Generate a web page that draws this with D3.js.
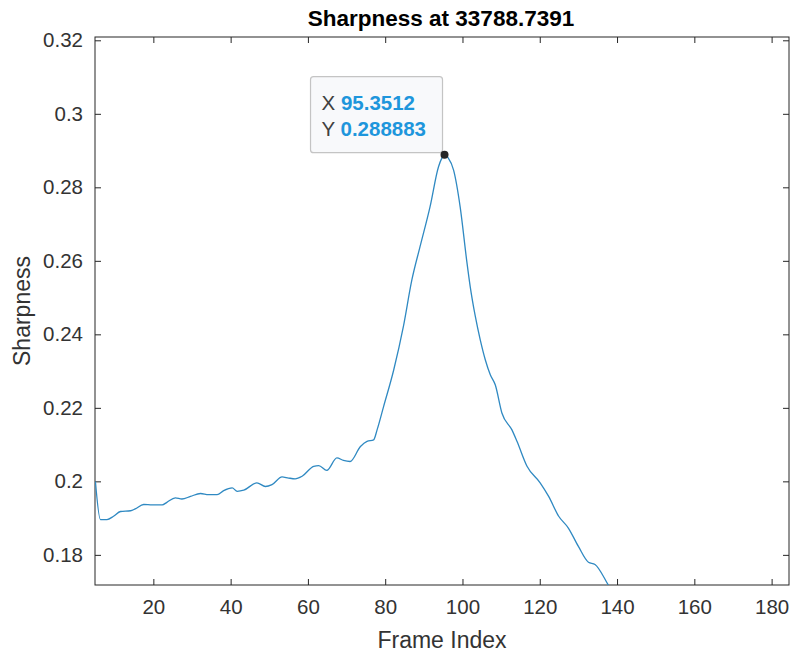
<!DOCTYPE html>
<html>
<head>
<meta charset="utf-8">
<script src="https://cdn.jsdelivr.net/npm/d3@7"></script>
<style>
  body { margin: 0; background: #fff; }
  svg { display: block; font-family: "Liberation Sans", Arial, sans-serif; }
</style>
</head>
<body>
<svg width="793" height="654"></svg>
<script>
const w = 793;
const h = 654;

// frame index / sharpness
var frameIndex = [5.0, 6.3, 8.0, 9.7, 11.5, 14.1, 15.3, 17.5, 19.7, 22.3, 23.5, 25.7, 27.4, 29.6,
  32.2, 34.3, 36.5, 38.2, 40.4, 41.7, 43.4, 46.8, 49.0, 50.7, 53.3, 55.0, 56.7, 58.5, 61.5, 62.8,
  64.9, 67.5, 69.2, 70.9, 73.6, 75.3, 77.0, 77.9, 79.6, 82.2, 84.7, 86.9, 89.0, 91.6, 93.8, 94.6,
  95.3512, 96.3, 97.7, 99.4, 101.1, 102.0, 103.3, 104.6, 105.9, 107.2, 108.5, 110.2, 112.8, 114.1,
  116.7, 120.1, 122.3, 124.9, 127.4, 130.0, 132.6, 134.3, 137.8, 140.0, 143.0]
var sharpness = [0.2000, 0.1896, 0.1896, 0.1905, 0.1918, 0.1920, 0.1925, 0.1937, 0.1936, 0.1936,
  0.1943, 0.1955, 0.1952, 0.1959, 0.1967, 0.1964, 0.1964, 0.1975, 0.1982, 0.1973, 0.1976, 0.1996,
  0.1986, 0.1991, 0.2012, 0.2009, 0.2007, 0.2014, 0.2041, 0.2043, 0.2030, 0.2064, 0.2057, 0.2054,
  0.2095, 0.2109, 0.2113, 0.2140, 0.2204, 0.2303, 0.2421, 0.2548, 0.2638, 0.2747, 0.2856, 0.2878,
  0.288883, 0.2880, 0.2847, 0.2747, 0.2600, 0.2530, 0.2450, 0.2385, 0.2331, 0.2290, 0.2262, 0.2186,
  0.2140, 0.2109, 0.2041, 0.1996, 0.1959, 0.1905, 0.1873, 0.1823, 0.1780, 0.1774, 0.1717, 0.1680,
  0.1630]

var xTicks = [20, 40, 60, 80, 100, 120, 140, 160, 180]
var yTicks = [0.18, 0.2, 0.22, 0.24, 0.26, 0.28, 0.3, 0.32]
var yTickLabels = ['0.18', '0.2', '0.22', '0.24', '0.26', '0.28', '0.3', '0.32']

var tipX = 95.3512
var tipY = 0.288883
var title = 'Sharpness at 33788.7391'

const pLeft = 95, pRight = 789, pTop = 37, pBottom = 585;
const axisColor = '#262626';
const textColor = '#333333';

var svg = d3.select('svg')

var x = d3.scaleLinear().domain([4.9, 184.5]).range([pLeft, pRight])
var y = d3.scaleLinear().domain([0.1718, 0.3209]).range([pBottom, pTop])

svg.append('defs').append('clipPath').attr('id', 'clip')
  .append('rect').attr('x', pLeft).attr('y', pTop).attr('width', pRight - pLeft).attr('height', pBottom - pTop)

// axes, ticks pointing inward
function styleAxis(g) {
  g.select('.domain').remove()
  g.selectAll('.tick line').attr('stroke', axisColor)
  g.selectAll('.tick text').attr('fill', textColor).style('font-size', '20.5px')
}

svg.append('g').attr('transform', `translate(0,${pBottom})`)
  .call(d3.axisBottom(x).tickValues(xTicks).tickSizeInner(-6).tickSizeOuter(0).tickPadding(14).tickFormat(d3.format('d')))
  .call(styleAxis)
svg.append('g').attr('transform', `translate(0,${pTop})`)
  .call(d3.axisTop(x).tickValues(xTicks).tickSizeInner(-6).tickSizeOuter(0).tickFormat(''))
  .call(styleAxis)
svg.append('g').attr('transform', `translate(${pLeft},0)`)
  .call(d3.axisLeft(y).tickValues(yTicks).tickSizeInner(-6).tickSizeOuter(0).tickPadding(12)
    .tickFormat((d, i) => yTickLabels[i]))
  .call(styleAxis)
svg.append('g').attr('transform', `translate(${pRight},0)`)
  .call(d3.axisRight(y).tickValues(yTicks).tickSizeInner(-6).tickSizeOuter(0).tickFormat(''))
  .call(styleAxis)

svg.append('rect').attr('x', pLeft).attr('y', pTop).attr('width', pRight - pLeft).attr('height', pBottom - pTop)
  .attr('fill', 'none').attr('stroke', axisColor).attr('stroke-width', 1)

var pts = frameIndex.map((f, i) => [f, sharpness[i]])
svg.append('path').datum(pts)
  .attr('clip-path', 'url(#clip)')
  .attr('fill', 'none')
  .attr('stroke', '#2f89c2')
  .attr('stroke-width', 1.3)
  .attr('d', d3.line().x(d => x(d[0])).y(d => y(d[1])).curve(d3.curveMonotoneX))

// titles
svg.append('text').attr('x', (pLeft + pRight) / 2 - 1).attr('y', 26).attr('text-anchor', 'middle')
  .style('font-size', '22.5px').style('font-weight', 'bold').attr('fill', '#000').text(title)
svg.append('text').attr('x', (pLeft + pRight) / 2).attr('y', 648).attr('text-anchor', 'middle')
  .style('font-size', '23px').attr('fill', textColor).text('Frame Index')
svg.append('text').attr('transform', `translate(30,${(pTop + pBottom) / 2}) rotate(-90)`).attr('text-anchor', 'middle')
  .style('font-size', '23px').attr('fill', textColor).text('Sharpness')

// data tip
var px = x(tipX), py = y(tipY)
var tip = svg.append('g')
tip.append('rect').attr('x', px - 134).attr('y', py - 78).attr('width', 132).attr('height', 76).attr('rx', 3)
  .attr('fill', '#f8f9fb').attr('stroke', '#c4c4c4').attr('stroke-width', 1.2)
var rows = [['X', '95.3512', 33], ['Y', '0.288883', 59]]
rows.forEach(r => {
  var t = tip.append('text').attr('x', px - 123).attr('y', py - 78 + r[2]).style('font-size', '20.5px')
  t.append('tspan').attr('fill', '#404040').text(r[0] + ' ')
  t.append('tspan').attr('fill', '#1e96dc').style('font-weight', 'bold').text(r[1])
})
svg.append('circle').attr('cx', px).attr('cy', py).attr('r', 4).attr('fill', '#262626')
</script>
</body>
</html>
